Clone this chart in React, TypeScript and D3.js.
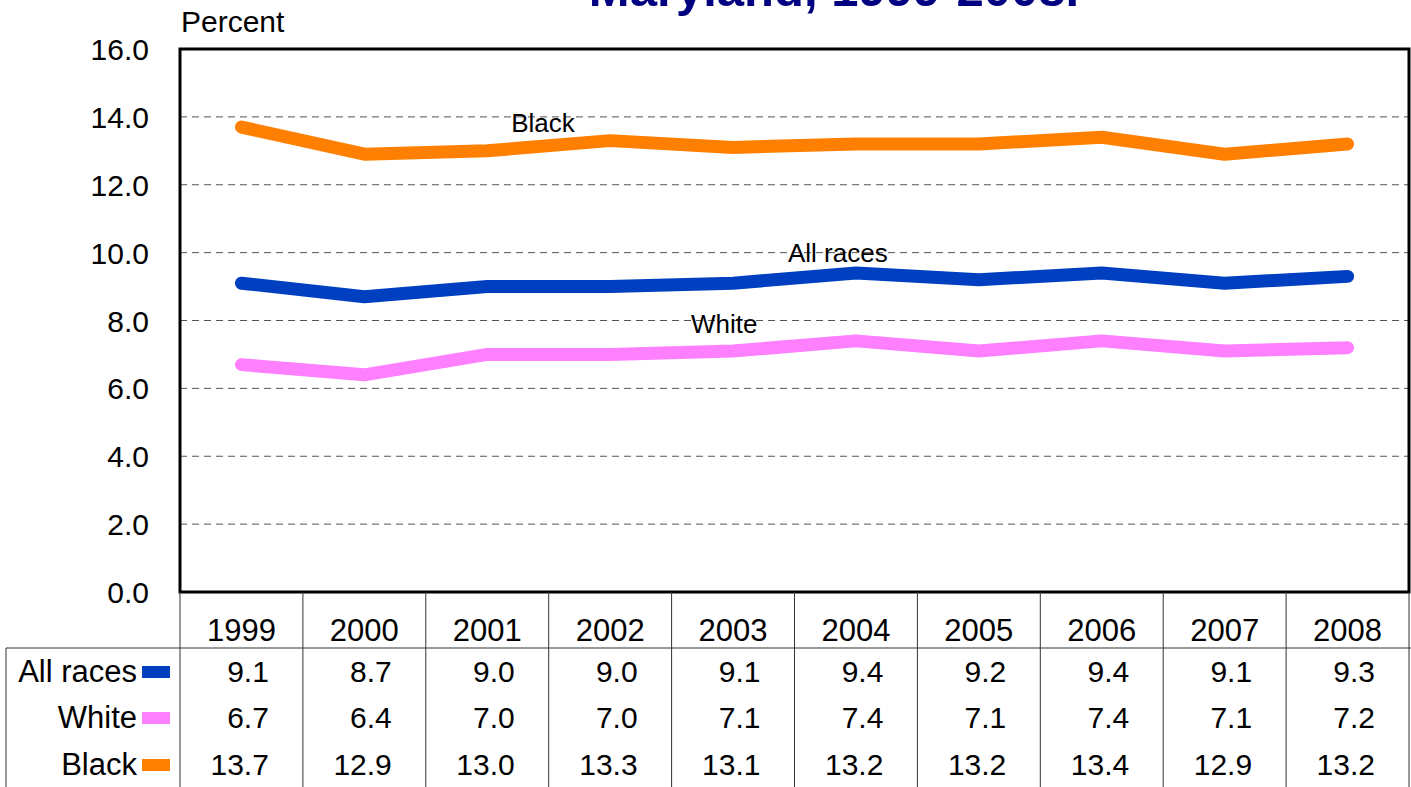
import * as d3 from 'd3'

const years = ['1999', '2000', '2001', '2002', '2003', '2004', '2005', '2006', '2007', '2008']
const allRaces = [9.1, 8.7, 9.0, 9.0, 9.1, 9.4, 9.2, 9.4, 9.1, 9.3]
const white = [6.7, 6.4, 7.0, 7.0, 7.1, 7.4, 7.1, 7.4, 7.1, 7.2]
const black = [13.7, 12.9, 13.0, 13.3, 13.1, 13.2, 13.2, 13.4, 12.9, 13.2]
const yTicks = [0, 2, 4, 6, 8, 10, 12, 14, 16]

const WIDTH = 1411
const HEIGHT = 787
const PLOT_LEFT = 180
const PLOT_RIGHT = 1409
const PLOT_TOP = 49
const PLOT_BOTTOM = 592
const FONT = '"Liberation Sans", Arial, sans-serif'

// label anchor: year column it sits over, x offset from column centre, and value level of the baseline
const series = [
  { name: 'All races', values: allRaces, color: '#0040C0', label: { year: '2004', dx: -68, value: 9.73 } },
  { name: 'White', values: white, color: '#FF80FF', label: { year: '2003', dx: -42, value: 7.62 } },
  { name: 'Black', values: black, color: '#FF8000', label: { year: '2001', dx: 24, value: 13.55 } },
]

export default function App() {
  const x = d3.scaleBand<string>().domain(years).range([PLOT_LEFT, PLOT_RIGHT])
  const y = d3.scaleLinear().domain([0, 16]).range([PLOT_BOTTOM, PLOT_TOP])
  const cx = (yr: string) => (x(yr) ?? 0) + x.bandwidth() / 2

  const line = d3
    .line<number>()
    .x((_, i) => cx(years[i]))
    .y((d) => y(d))

  const headerLineY = 648
  const rowY = [672, 718, 765]

  return (
    <div style={{ position: 'absolute', left: 0, top: 0 }}>
      <svg width={WIDTH} height={HEIGHT} style={{ display: 'block', background: '#fff' }} fontFamily={FONT}>
        {/* title, cut off at the top of the frame */}
        <text x={834} y={6} textAnchor="middle" fontSize={49} fontWeight="bold" fill="#000080">
          Maryland, 1999-2008.
        </text>

        <text x={181} y={32} fontSize={30} fill="#000">
          Percent
        </text>

        {/* gridlines */}
        {yTicks
          .filter((t) => t > 0 && t < 16)
          .map((t) => (
            <line
              key={t}
              x1={PLOT_LEFT}
              x2={PLOT_RIGHT}
              y1={y(t)}
              y2={y(t)}
              stroke="#555"
              strokeWidth={1}
              strokeDasharray="7 5"
            />
          ))}

        {/* y tick labels */}
        {yTicks.map((t) => (
          <text key={t} x={149} y={y(t) + 11} textAnchor="end" fontSize={30} fill="#000">
            {t.toFixed(1)}
          </text>
        ))}

        {/* lines */}
        {series.map((s) => (
          <path
            key={s.name}
            d={line(s.values) ?? ''}
            fill="none"
            stroke={s.color}
            strokeWidth={13}
            strokeLinecap="round"
            strokeLinejoin="round"
          />
        ))}

        {/* series labels */}
        {series.map((s) => (
          <text
            key={s.name}
            x={cx(s.label.year) + s.label.dx}
            y={y(s.label.value)}
            fontSize={26}
            fill="#000"
          >
            {s.name}
          </text>
        ))}

        {/* plot frame */}
        <rect
          x={PLOT_LEFT}
          y={PLOT_TOP}
          width={PLOT_RIGHT - PLOT_LEFT}
          height={PLOT_BOTTOM - PLOT_TOP}
          fill="none"
          stroke="#000"
          strokeWidth={3}
        />

        {/* data table */}
        {years.map((yr) => (
          <line
            key={yr}
            x1={x(yr) ?? 0}
            x2={x(yr) ?? 0}
            y1={PLOT_BOTTOM}
            y2={HEIGHT}
            stroke="#333"
            strokeWidth={1}
          />
        ))}
        <line x1={PLOT_RIGHT} x2={PLOT_RIGHT} y1={PLOT_BOTTOM} y2={HEIGHT} stroke="#333" strokeWidth={1} />
        <line x1={6} x2={WIDTH} y1={headerLineY} y2={headerLineY} stroke="#333" strokeWidth={1} />
        <line x1={6} x2={6} y1={headerLineY} y2={HEIGHT} stroke="#333" strokeWidth={1} />

        {years.map((yr) => (
          <text key={yr} x={cx(yr)} y={641} textAnchor="middle" fontSize={31} fill="#000">
            {yr}
          </text>
        ))}

        {series.map((s, r) => (
          <g key={s.name}>
            <text x={137} y={rowY[r] + 10} textAnchor="end" fontSize={31} fill="#000">
              {s.name}
            </text>
            <rect x={142} y={rowY[r] - 6} width={28} height={12} fill={s.color} />
            {s.values.map((v, i) => (
              <text
                key={i}
                x={(x(years[i]) ?? 0) + x.bandwidth() - 34}
                y={rowY[r] + 10}
                textAnchor="end"
                fontSize={30}
                fill="#000"
              >
                {v.toFixed(1)}
              </text>
            ))}
          </g>
        ))}
      </svg>
    </div>
  )
}
